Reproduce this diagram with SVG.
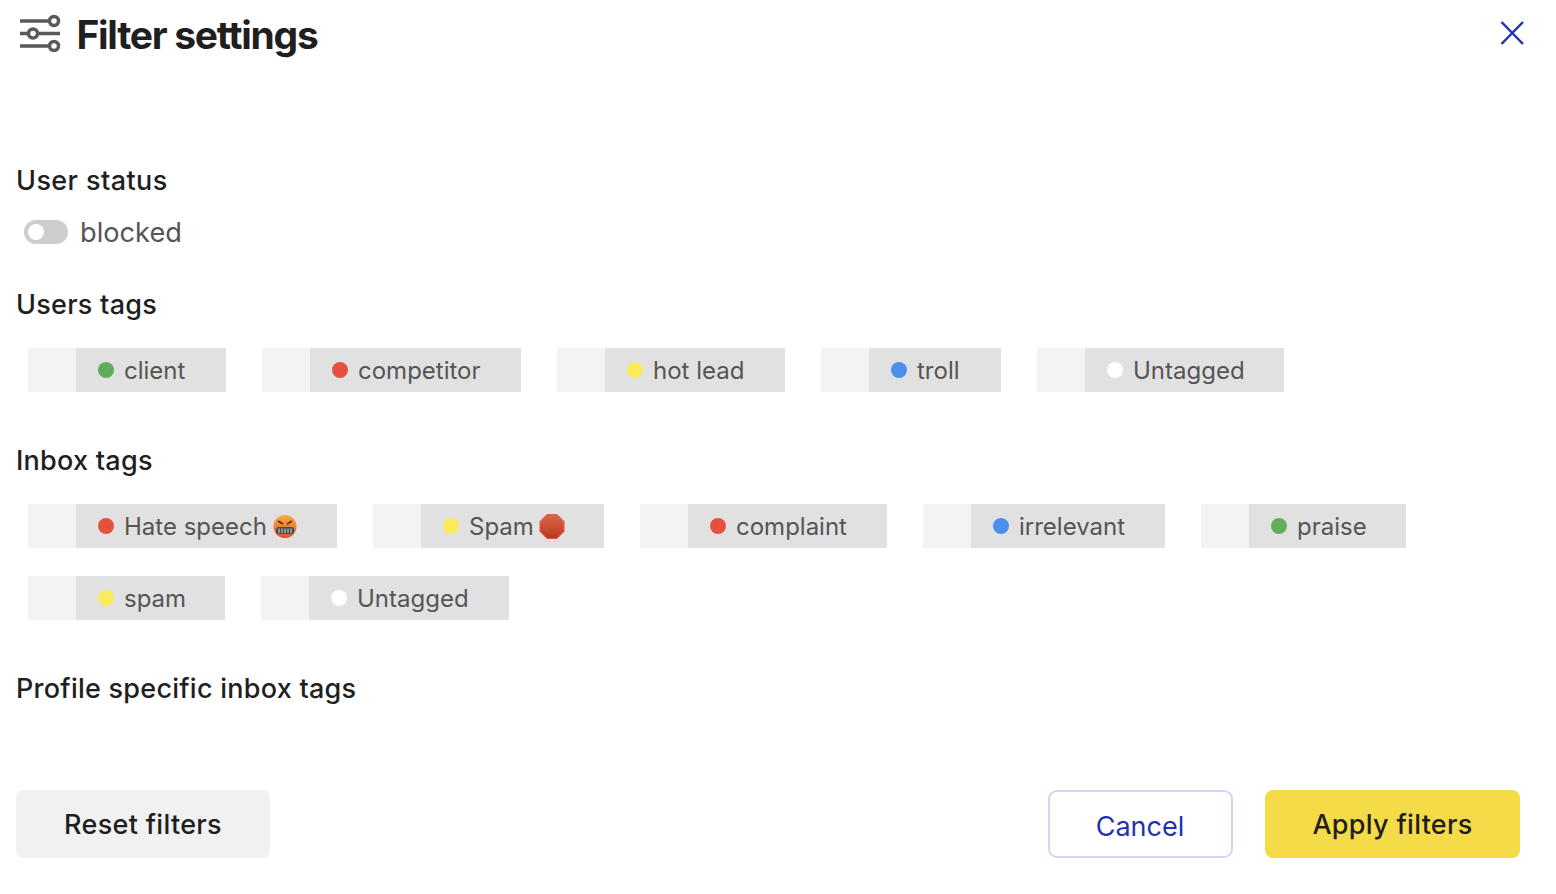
<svg xmlns="http://www.w3.org/2000/svg" width="1556" height="894" viewBox="0 0 1556 894">
<defs>
<linearGradient id="oct" x1="0" y1="0" x2="0" y2="1"><stop offset="0" stop-color="#e0654f"/><stop offset="1" stop-color="#b83a1c"/></linearGradient>
<linearGradient id="face" x1="0" y1="0" x2="0" y2="1"><stop offset="0" stop-color="#f4b13f"/><stop offset="1" stop-color="#e2552a"/></linearGradient>
</defs>
<style>
text{font-family:Inter,"Liberation Sans",sans-serif}
.h{font-size:27px;font-weight:500;fill:#1f1f1f;letter-spacing:.25px}
.t{font-size:24px;fill:#555}
.l{fill:#f3f3f3}.r{fill:#e1e1e1}
.g{fill:#62ad5c}.e{fill:#e5503f}.y{fill:#fbeb5b}.b{fill:#4a90ea}.w{fill:#fff}
.btn{font-size:27px;font-weight:500;fill:#1f1f1f;text-anchor:middle;letter-spacing:.3px}
</style>
<rect width="1556" height="894" fill="#fff"/>
<g id="header">
<g fill="none" stroke="#595959" stroke-width="3.500"><path d="M20 21H48M20 33.500H28M38 33.500H60M20 46H48"/><circle cx="54" cy="21" r="4.500"/><circle cx="33" cy="33.500" r="4.500"/><circle cx="54" cy="46" r="4.500"/></g>
<text x="76.500" y="49" font-size="39" font-weight="700" letter-spacing="-1.300" fill="#1f1f1f">Filter settings</text>
</g>
<g id="close"><path d="M1501.500 22L1523 44M1523 22L1501.500 44" stroke="#1f32b4" stroke-width="2.500" fill="none"/></g>
<text class="h" x="16" y="190" style="letter-spacing:.4px">User status</text>
<g id="blocked"><rect x="24" y="220" width="44" height="24" rx="12" fill="#cdcdcd"/><circle cx="36" cy="232" r="8" fill="#fff"/><text class="t" x="80" y="242" style="font-size:27.200px">blocked</text></g>
<text class="h" x="16" y="314">Users tags</text>
<g id="u-client"><rect class="l" x="28" y="348" width="48" height="44"/><rect class="r" x="76" y="348" width="150" height="44"/><circle class="g" cx="106" cy="370" r="8"/><text class="t" x="124" y="379">client</text></g>
<g id="u-competitor"><rect class="l" x="262" y="348" width="48" height="44"/><rect class="r" x="310" y="348" width="211" height="44"/><circle class="e" cx="340" cy="370" r="8"/><text class="t" x="358" y="379">competitor</text></g>
<g id="u-hotlead"><rect class="l" x="557" y="348" width="48" height="44"/><rect class="r" x="605" y="348" width="180" height="44"/><circle class="y" cx="635" cy="370" r="8"/><text class="t" x="653" y="379">hot lead</text></g>
<g id="u-troll"><rect class="l" x="821" y="348" width="48" height="44"/><rect class="r" x="869" y="348" width="132" height="44"/><circle class="b" cx="899" cy="370" r="8"/><text class="t" x="917" y="379">troll</text></g>
<g id="u-untagged"><rect class="l" x="1037" y="348" width="48" height="44"/><rect class="r" x="1085" y="348" width="199" height="44"/><circle class="w" cx="1115" cy="370" r="8"/><text class="t" x="1133" y="379">Untagged</text></g>
<text class="h" x="16" y="470">Inbox tags</text>
<g id="i-hate"><rect class="l" x="28" y="504" width="48" height="44"/><rect class="r" x="76" y="504" width="261" height="44"/><circle class="e" cx="106" cy="526" r="8"/><text class="t" x="124" y="535">Hate speech</text>
<circle cx="285" cy="526.500" r="11.500" fill="url(#face)"/><rect x="276" y="527" width="18" height="7" rx="2.500" fill="#4a4a4a"/><path d="M278 521L283 524M292 521L287 524" stroke="#5a2a10" stroke-width="1.800"/><path d="M279 528.500V533M282 528.500V533M285 528.500V533M288 528.500V533M291 528.500V533" stroke="#ddd" stroke-width="1"/></g>
<g id="i-spam1"><rect class="l" x="373" y="504" width="48" height="44"/><rect class="r" x="421" y="504" width="183" height="44"/><circle class="y" cx="451" cy="526" r="8"/><text class="t" x="469" y="535">Spam</text>
<path d="M547 514.500H557L564 521.500V531.500L557 538.500H547L540 531.500V521.500Z" fill="url(#oct)" stroke="#e35a45"/></g>
<g id="i-complaint"><rect class="l" x="640" y="504" width="48" height="44"/><rect class="r" x="688" y="504" width="199" height="44"/><circle class="e" cx="718" cy="526" r="8"/><text class="t" x="736" y="535">complaint</text></g>
<g id="i-irrelevant"><rect class="l" x="923" y="504" width="48" height="44"/><rect class="r" x="971" y="504" width="194" height="44"/><circle class="b" cx="1001" cy="526" r="8"/><text class="t" x="1019" y="535">irrelevant</text></g>
<g id="i-praise"><rect class="l" x="1201" y="504" width="48" height="44"/><rect class="r" x="1249" y="504" width="157" height="44"/><circle class="g" cx="1279" cy="526" r="8"/><text class="t" x="1297" y="535">praise</text></g>
<g id="i-spam2"><rect class="l" x="28" y="576" width="48" height="44"/><rect class="r" x="76" y="576" width="149" height="44"/><circle class="y" cx="106" cy="598" r="8"/><text class="t" x="124" y="607">spam</text></g>
<g id="i-untagged"><rect class="l" x="261" y="576" width="48" height="44"/><rect class="r" x="309" y="576" width="200" height="44"/><circle class="w" cx="339" cy="598" r="8"/><text class="t" x="357" y="607">Untagged</text></g>
<text class="h" x="16" y="698">Profile specific inbox tags</text>
<g id="reset"><rect x="16" y="790" width="254" height="68" rx="8" fill="#f1f1f1"/><text class="btn" x="143" y="834">Reset filters</text></g>
<g id="cancel"><rect x="1049" y="791" width="183" height="66" rx="8" fill="#fff" stroke="#d3d5f0" stroke-width="2"/><text class="btn" x="1140" y="836" style="fill:#1f32b4;font-weight:400;letter-spacing:0">Cancel</text></g>
<g id="apply"><rect x="1265" y="790" width="255" height="68" rx="8" fill="#f5db48"/><text class="btn" x="1392.500" y="834">Apply filters</text></g>
</svg>
